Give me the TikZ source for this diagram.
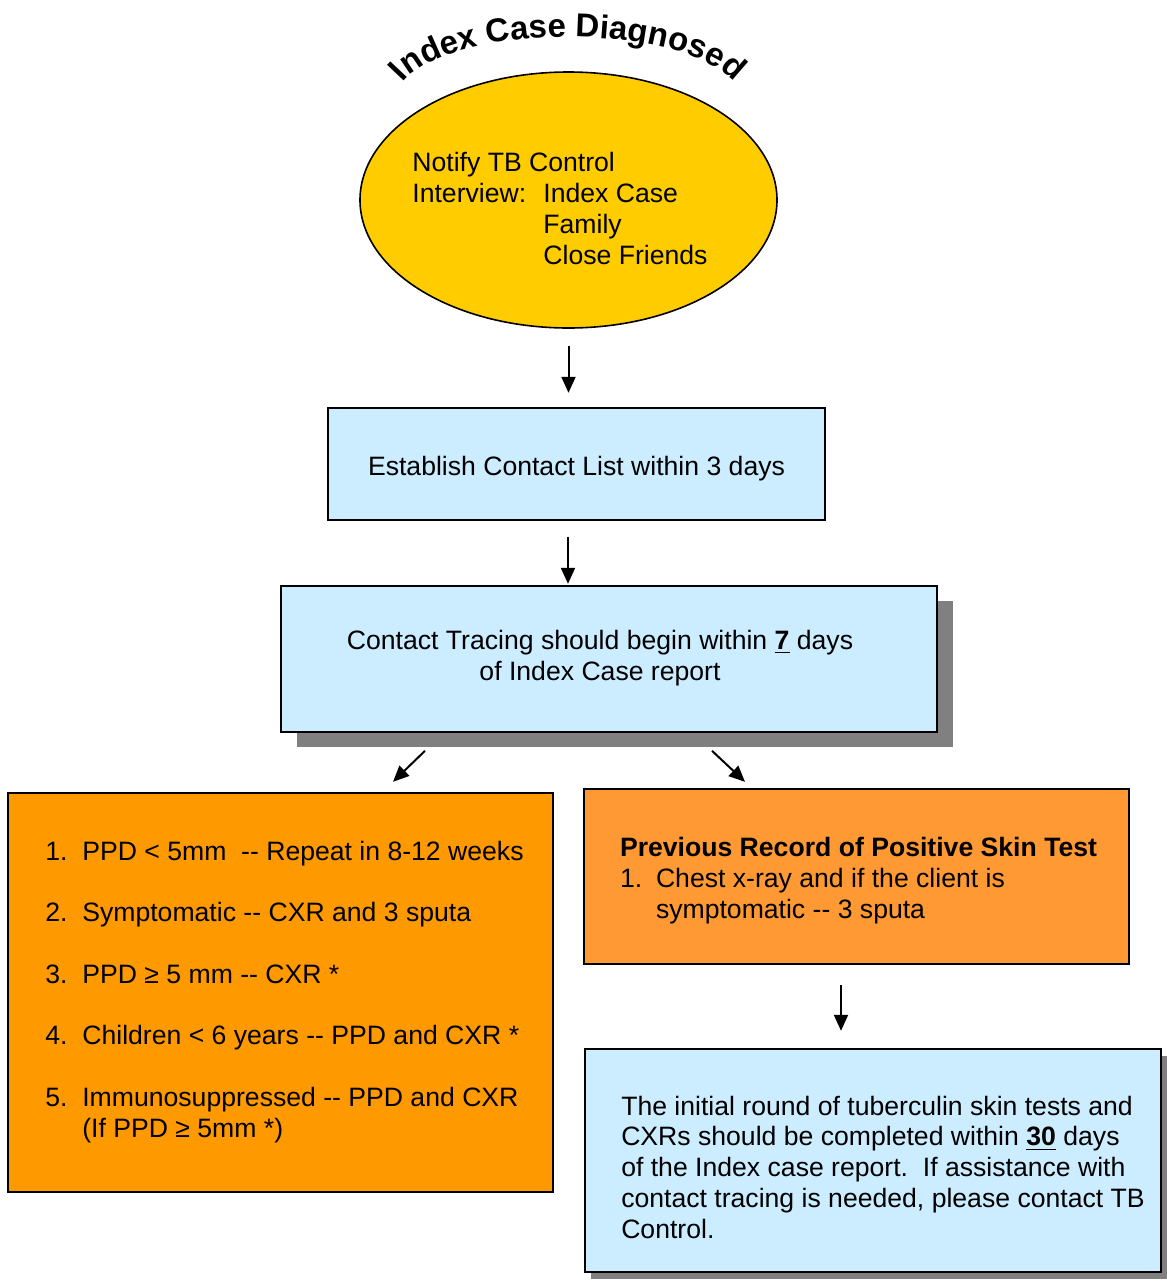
\documentclass[tikz,border=0pt]{standalone}
\usepackage{fontspec}
\setmainfont{Liberation Sans}
\usetikzlibrary{shapes.geometric,arrows.meta,shadows,decorations.text}

\definecolor{sun}{HTML}{FFCC00}
\definecolor{sky}{HTML}{CCECFF}
\definecolor{amber}{HTML}{FF9900}
\definecolor{peach}{HTML}{FF9933}
\definecolor{shadowgray}{HTML}{808080}
\newcommand{\dd}{-\kern0pt-}
\newcommand{\titlefont}{\bfseries\fontsize{16.5}{19}\selectfont}
\newcommand{\sinktext}[2]{\raisebox{-#1}[\height][\depth]{#2}}

\begin{document}
\begin{tikzpicture}[x=0.5pt,y=-0.5pt,
        box/.style={rectangle, draw, line width=0.8pt, inner sep=0pt,
        font=\fontsize{13.3}{15.4}\selectfont},
        txt/.style={inner sep=0pt, align=left, font=\fontsize{13.3}{15.4}\selectfont},
        flow/.style={line width=1pt, -{Triangle[length=8pt,width=7pt]}},
        bigshadow/.style={drop shadow={shadow xshift=8pt, shadow yshift=-7.5pt,
        opacity=1, fill=shadowgray}},
        smallshadow/.style={drop shadow={shadow xshift=3pt, shadow yshift=-3.5pt,
        opacity=1, fill=shadowgray}}
        ]

        \fill[white] (0,0) rectangle (1167,1281);
        \useasboundingbox (0,0) rectangle (1167,1281);

        % title on an arch
        \path[decorate, decoration={text along path, text align=center,
            text={|\titlefont|Index Case Diagnosed}}]
            (568,99) ++(192:172 and 62)
            arc[start angle=192, end angle=348, x radius=172, y radius=62];

        \node [ellipse, draw, fill=sun, line width=0.8pt, inner sep=0pt,
            minimum width=208.5pt, minimum height=128pt] (ell) at (568.5,200) {};
        \node [txt, anchor=west] (notify) at ([xshift=-78.25pt,yshift=-6pt]ell.center) {%
            \begin{tabular}{@{}p{65.5pt}@{}l@{}}
            \multicolumn{2}{@{}l@{}}{Notify TB Control}\\
            Interview: & Index Case\\
             & Family\\
             & Close Friends
            \end{tabular}};

        \node [box, fill=sky, minimum width=248.5pt, minimum height=56pt] (list)
            at (576.5,464) {\sinktext{2.5pt}{Establish Contact List within 3 days}};

        \node [box, fill=sky, bigshadow, minimum width=328pt,
            minimum height=73pt] (trace) at (609,659) {%
            \begin{tabular}{@{}c@{\hspace{9pt}}}
            Contact Tracing should begin within \underline{\textbf{7}} days\\
            of Index Case report
            \end{tabular}};

        \node [box, fill=amber, minimum width=272.5pt, minimum height=199.5pt]
            (routine) at (280.5,992.5) {%
            \begin{tabular}{@{\hspace{4pt}}p{18.5pt}@{}l@{}}
            1. & PPD < 5mm\ \ \dd{} Repeat in 8-12 weeks\\[15.4pt]
            2. & Symptomatic \dd{} CXR and 3 sputa\\[15.4pt]
            3. & PPD ≥ 5 mm \dd{} CXR *\\[15.4pt]
            4. & Children < 6 years \dd{} PPD and CXR *\\[15.4pt]
            5. & Immunosuppressed \dd{} PPD and CXR\\
             & (If PPD ≥ 5mm *)
            \end{tabular}};

        \node [box, fill=peach, minimum width=272.5pt, minimum height=87.5pt]
            (previous) at (856.5,876.5) {\sinktext{2.5pt}{%
            \begin{tabular}{@{\hspace{2pt}}p{18pt}@{}l@{}}
            \multicolumn{2}{@{\hspace{2pt}}l@{}}{\textbf{Previous Record of Positive Skin Test}}\\
            1. & Chest x-ray and if the client is\\
             & symptomatic \dd{} 3 sputa
            \end{tabular}}};

        \node [box, fill=sky, smallshadow, minimum width=288pt, minimum height=111.5pt]
            (initial) at (873,1160.5) {\sinktext{5pt}{%
            \begin{tabular}{@{\hspace{10pt}}l@{}}
            The initial round of tuberculin skin tests and\\
            CXRs should be completed within \underline{\textbf{30}} days\\
            of the Index case report.\ \ If assistance with\\
            contact tracing is needed, please contact TB\\
            Control.
            \end{tabular}}};

        \draw[flow, shorten <=8.5pt, shorten >=8pt] (ell.south) -- ++(0,80);
        \draw[flow, shorten <=8pt, shorten >=1.5pt] ([xshift=-4.25pt]list.south) -- ++(0,66);
        \draw[flow] ([xshift=-92pt,yshift=-9pt]trace.south)
            -- ([xshift=-108pt,yshift=-24.5pt]trace.south);
        \draw[flow] ([xshift=51.5pt,yshift=-9pt]trace.south)
            -- ([xshift=68pt,yshift=-24.5pt]trace.south);
        \draw[flow, shorten <=10pt, shorten >=9.5pt] ([xshift=-7.75pt]previous.south)
            -- ++(0,85);

\end{tikzpicture}
\end{document}
